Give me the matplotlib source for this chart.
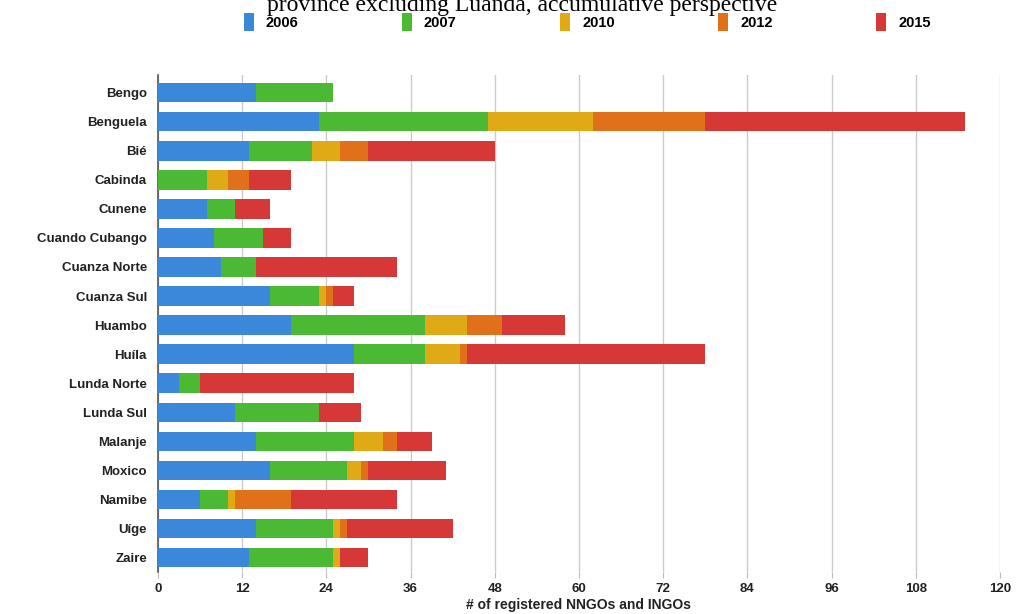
import numpy as np
import matplotlib
matplotlib.use("Agg")
import matplotlib.pyplot as plt

plt.rcParams['font.family'] = ['Liberation Sans Narrow', 'Liberation Sans', 'DejaVu Sans']

provincias = ["Bengo", "Benguela", "Bié", "Cabinda", "Cunene", "Cuando Cubango",
              "Cuanza Norte", "Cuanza Sul", "Huambo", "Huíla", "Lunda Norte",
              "Lunda Sul", "Malanje", "Moxico", "Namibe", "Uíge", "Zaire"]
anios = ["2006", "2007", "2010", "2012", "2015"]

v2006 = [14, 23, 13, 0, 7, 8, 9, 16, 19, 28, 3, 11, 14, 16, 6, 14, 13]
v2007 = [11, 24, 9, 7, 4, 7, 5, 7, 19, 10, 3, 12, 14, 11, 4, 11, 12]
v2010 = [0, 15, 4, 3, 0, 0, 0, 1, 6, 5, 0, 0, 4, 2, 1, 1, 1]
v2012 = [0, 16, 4, 3, 0, 0, 0, 1, 5, 1, 0, 0, 2, 1, 8, 1, 0]
v2015 = [0, 37, 18, 6, 5, 4, 20, 3, 9, 34, 22, 6, 5, 11, 15, 15, 4]

colores = ["#3b87d9", "#4cb935", "#e0aa17", "#e0701a", "#d63838"]

fig = plt.figure(figsize=(10.16, 6.14), dpi=100)
ax = fig.add_axes([0.1555, 0.068, 0.8287, 0.81])

y = np.arange(len(provincias))
izquierda = np.zeros(len(provincias))
for serie, anio, color in zip([v2006, v2007, v2010, v2012, v2015], anios, colores):
    ax.barh(y, serie, left=izquierda, height=0.66, color=color, label=anio, zorder=3)
    izquierda += np.array(serie)

ax.set_xlim(0, 120)
ax.set_xticks(np.arange(0, 121, 12))
ax.set_ylim(16.52, -0.62)
ax.set_yticks(y)
ax.set_yticklabels(provincias, fontsize=9.5, fontweight='bold', color='#222222')
ax.tick_params(axis='x', labelsize=9.5, colors='#222222', length=4, width=0.8,
               color='#bbbbbb', pad=4)
for lbl in ax.get_xticklabels():
    lbl.set_fontweight('bold')
ax.tick_params(axis='y', length=0, pad=8)

ax.grid(axis='x', color='#cccccc', linewidth=1, zorder=0)
for s in ['top', 'right', 'bottom']:
    ax.spines[s].set_visible(False)
ax.spines['left'].set_color('#555555')
ax.spines['left'].set_linewidth(1.2)

ax.set_xlabel("# of registered NNGOs and INGOs", fontsize=10, fontweight='bold',
              color='#222222', labelpad=2)

# Leyenda
fig.legend(loc='upper center', bbox_to_anchor=(0.578, 1.0), ncol=5, frameon=False,
           handlelength=0.7, handleheight=1.5, handletextpad=0.8, columnspacing=7.1,
           prop={'size': 10.5, 'weight': 'bold'})

# Título (cortado arriba en la imagen original)
fig.text(0.514, 1 - 11 / 614, "province excluding Luanda, accumulative perspective",
         ha='center', va='baseline', fontsize=17, family=['Liberation Serif', 'DejaVu Serif'])

fig.savefig("out.png", dpi=100)
